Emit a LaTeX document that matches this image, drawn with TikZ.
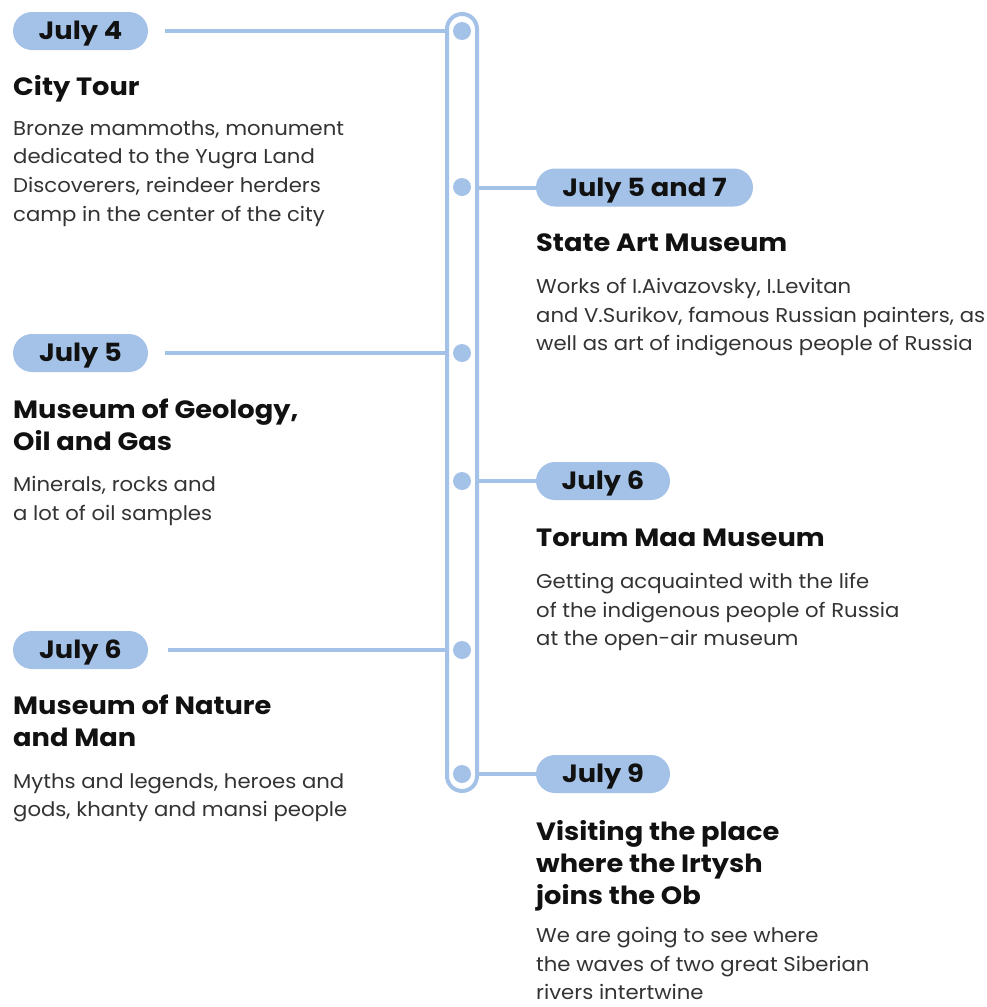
\documentclass[tikz,border=0pt]{standalone}
\usepackage{fontspec}
\setmainfont{Poppins}
\newfontfamily\bodyf[FakeStretch=1.06]{Poppins}
\newfontfamily\boldf[FakeStretch=1.09]{Poppins}
\definecolor{tl}{HTML}{A4C2E8}
\definecolor{bodyc}{HTML}{333333}
\definecolor{titc}{HTML}{111111}
\tikzset{
  pill/.style={fill=tl, rounded corners=19pt, minimum height=38pt, inner sep=0pt, text=titc,
    text height=17.4pt, text depth=0pt,
    font=\boldf\fontsize{25}{25}\selectfont\bfseries},
  dot/.style={circle, fill=tl, minimum size=18pt, inner sep=0pt},
  conn/.style={draw=tl, line width=4pt},
  ttl/.style={anchor=north west, inner sep=0pt, align=left, text=titc,
    font=\boldf\fontsize{25}{32}\selectfont\bfseries},
  bdy/.style={anchor=north west, inner sep=0pt, align=left, text=bodyc,
    font=\bodyf\fontsize{20}{28.7}\selectfont},
}
\begin{document}
\begin{tikzpicture}[x=1pt,y=-1pt]
\useasboundingbox[fill=white] (0,0) rectangle (987,1007);
% rail
\node[draw=tl, line width=4pt, rounded corners=15pt, minimum width=30pt, minimum height=777pt, inner sep=0pt] (rail) at (462,402.5) {};
% dots
\node[dot] (d1) at (462,31) {};
\node[dot] (d2) at (462,187) {};
\node[dot] (d3) at (462,353) {};
\node[dot] (d4) at (462,481) {};
\node[dot] (d5) at (462,650) {};
\node[dot] (d6) at (462,774) {};
% pills
\node[pill, minimum width=135pt] (p1) at (80.5,31) {July 4};
\node[pill, minimum width=217pt] (p2) at (644.5,187.5) {July 5 and 7};
\node[pill, minimum width=135pt] (p3) at (80.5,353) {July 5};
\node[pill, minimum width=134pt] (p4) at (603,481) {July 6};
\node[pill, minimum width=135pt] (p5) at (80.5,650) {July 6};
\node[pill, minimum width=134pt] (p6) at (603,774) {July 9};
% connectors
\draw[conn, shorten <=17pt] (p1.east) -- (p1.east -| rail.west);
\draw[conn, shorten <=17pt] (p3.east) -- (p3.east -| rail.west);
\draw[conn, shorten <=20pt] (p5.east) -- (p5.east -| rail.west);
\draw[conn] (p2.west -| rail.east) -- (p2.west);
\draw[conn] (p4.west -| rail.east) -- (p4.west);
\draw[conn] (p6.west -| rail.east) -- (p6.west);
% titles
\node[ttl] (t1) at (13,73.3) {\strut City Tour};
\node[ttl] (t2) at (536,229.3) {\strut State Art Museum};
\node[ttl] (t3) at (13,395.9) {\strut Museum of Geology,\\Oil and Gas};
\node[ttl] (t4) at (536,524.3) {\strut Torum Maa Museum};
\node[ttl] (t5) at (13,691.9) {\strut Museum of Nature\\and Man};
\node[ttl] (t6) at (536,818.3) {\strut Visiting the place\\where the Irtysh\\joins the Ob};
% bodies
\node[bdy] (b1) at (13,114.9) {\strut Bronze mammoths, monument\\dedicated to the Yugra Land\\Discoverers, reindeer herders\\camp in the center of the city};
\node[bdy] (b2) at (536,273.2) {\strut Works of I.Aivazovsky, I.Levitan\\and V.Surikov, famous Russian painters, as\\well as art of indigenous people of Russia};
\node[bdy] (b3) at (13,471.6) {\strut Minerals, rocks and\\a lot of oil samples};
\node[bdy] (b4) at (536,568.2) {\strut Getting acquainted with the life\\of the indigenous people of Russia\\at the open-air museum};
\node[bdy] (b5) at (13,767.7) {\strut Myths and legends, heroes and\\gods, khanty and mansi people};
\node[bdy, font=\bodyf\fontsize{20}{28.2}\selectfont] (b6) at (536,923) {\strut We are going to see where\\the waves of two great Siberian\\rivers intertwine};
\end{tikzpicture}
\end{document}
